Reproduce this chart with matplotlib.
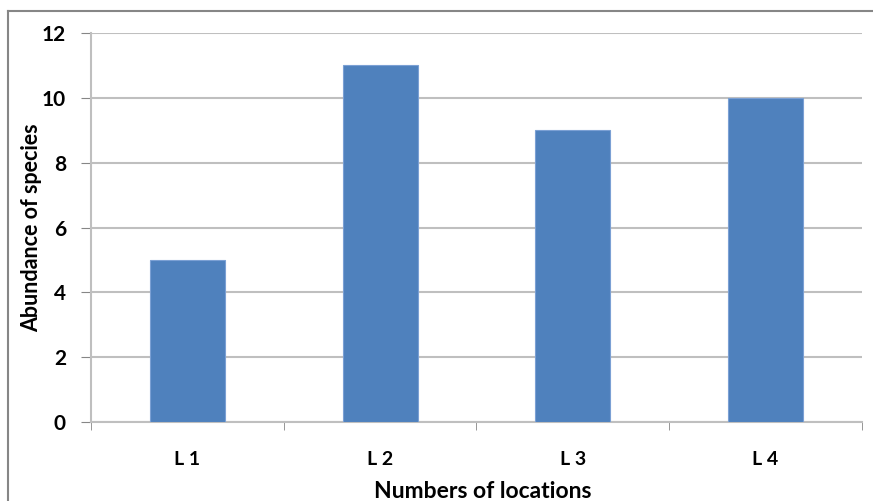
import numpy as np
import matplotlib.pyplot as plt
from matplotlib.lines import Line2D

# Data
locations = ['L 1', 'L 2', 'L 3', 'L 4']
abundance = [5, 11, 9, 10]
y_ticks = [0, 2, 4, 6, 8, 10, 12]

plt.rcParams['font.family'] = ['Lato', 'DejaVu Sans']
plt.rcParams['font.weight'] = 'bold'

fig = plt.figure(figsize=(8.73, 5.01), dpi=100)
ax = fig.add_axes([91 / 873, 79 / 501, 771 / 873, 389 / 501])

x = np.arange(len(locations))
ax.bar(x, abundance, width=0.39, color='#4F81BD', edgecolor='#7BA0D4',
       linewidth=0.8, zorder=3)

ax.set_xlim(-0.5, len(locations) - 0.5)
ax.set_ylim(0, 12)
ax.set_yticks(y_ticks)
ax.set_yticklabels([str(t) for t in y_ticks], fontsize=15, fontweight='bold')
ax.set_xticks(x)
ax.set_xticklabels(locations, fontsize=14, fontweight='bold')
ax.tick_params(axis='x', length=0, pad=21)
ax.tick_params(axis='y', length=7, color='#868686', pad=11)

# category boundary ticks under the x axis
ax.set_xticks(np.arange(len(locations) + 1) - 0.5, minor=True)
ax.tick_params(axis='x', which='minor', length=6, color='#868686')

ax.yaxis.grid(True, color='#BFBFBF', linewidth=1.5, zorder=0)
for side in ['top', 'right']:
    ax.spines[side].set_visible(False)
ax.spines['left'].set_color('#BFBFBF')
ax.spines['left'].set_linewidth(1.5)
ax.spines['bottom'].set_color('#BFBFBF')
ax.spines['bottom'].set_linewidth(1.5)

ax.set_ylabel('Abundance of species', fontsize=15.5, fontweight='bold')
ax.yaxis.set_label_coords(-0.064, 0.5)
ax.set_xlabel('Numbers of locations', fontsize=16.5, fontweight='bold')
ax.xaxis.set_label_coords(0.508, -0.152)

# outer chart border
fig.add_artist(Line2D([8 / 873, 1.0], [490 / 501, 490 / 501],
                      color='#868686', linewidth=1.5, transform=fig.transFigure))
fig.add_artist(Line2D([8 / 873, 8 / 873], [0, 490 / 501],
                      color='#868686', linewidth=1.5, transform=fig.transFigure))

fig.savefig('out.png', dpi=100)
